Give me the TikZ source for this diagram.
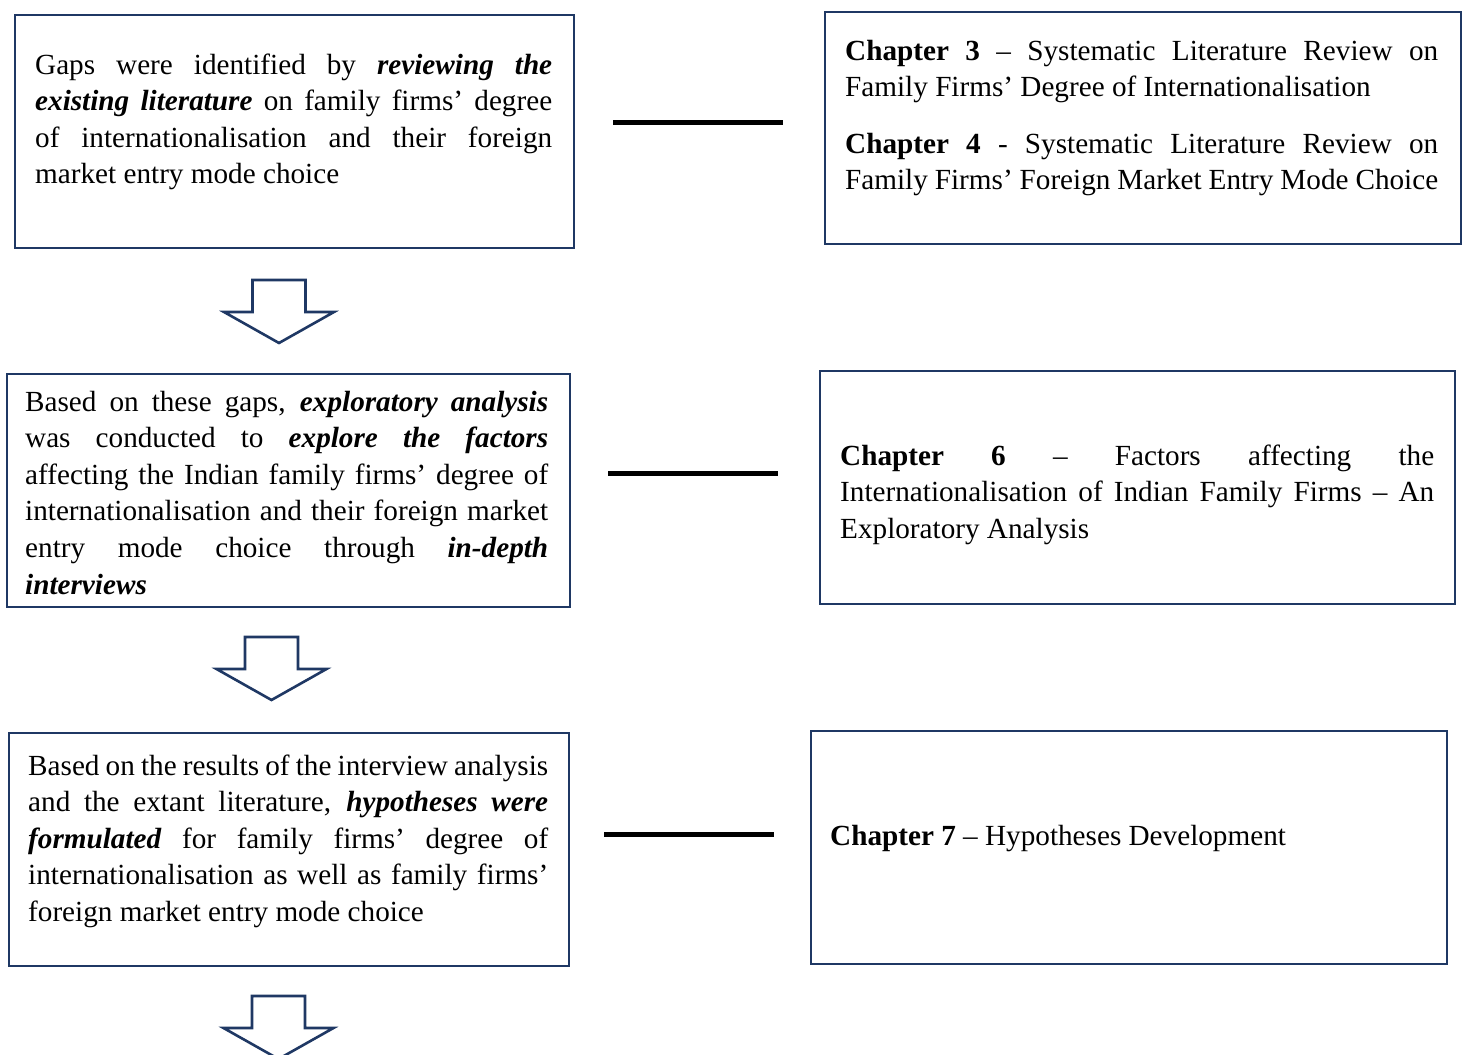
\documentclass[tikz,border=0pt]{standalone}
\usepackage{fontspec}
\setmainfont{Liberation Serif}
\definecolor{frame}{HTML}{1F3864}
\tikzset{
  stagebox/.style={draw=frame, line width=2.6pt, anchor=north west, inner sep=0pt},
  body/.style={anchor=base west, inner sep=0pt, text width=#1, align=justify,
    font=\fontsize{29.2}{36.6}\selectfont},
  link/.style={line width=5pt, black},
  blockarrow/.style={draw=frame, line width=2.6pt, fill=white, line join=miter},
}
\newcommand{\bi}[1]{\textbf{\textit{#1}}}
% hollow downward block arrow hanging from a named coordinate
\newcommand{\downblock}[1]{%
  \draw[blockarrow] (#1) ++(-26.5,0) -- ++(0,32) -- ++(-28.5,0) -- ++(55,31)
    -- ++(55,-31) -- ++(-28.5,0) -- ++(0,-32) -- cycle;}
\begin{document}
\begin{tikzpicture}[x=1pt, y=-1pt]
\useasboundingbox (0,0) rectangle (1465,1055);
\clip (0,0) rectangle (1465,1055);
\tolerance=10000 \hyphenpenalty=10000 \emergencystretch=0pt

% left column: research steps
\node[stagebox, minimum width=559pt, minimum height=233pt] (b1) at (13.5,13.5) {};
\node[body=517pt] (t1) at (35,74) {Gaps were identified by \bi{reviewing the}\linebreak
  \bi{existing literature} on family firms’ degree\linebreak
  of internationalisation and their foreign\linebreak
  market entry mode choice};

\node[stagebox, minimum width=563pt, minimum height=233pt] (b2) at (5.5,372.5) {};
\node[body=523pt] (t2) at (25,411) {Based on these gaps, \bi{exploratory analysis}\linebreak
  was conducted to \bi{explore the factors}\linebreak
  affecting the Indian family firms’ degree of\linebreak
  internationalisation and their foreign market\linebreak
  entry mode choice through \bi{in-depth}\linebreak
  \bi{interviews}};

\node[stagebox, minimum width=560pt, minimum height=233pt] (b3) at (7.5,731.5) {};
\node[body=520pt] (t3) at (28,775) {{\spaceskip=0.14em plus 0.1em minus 0.1em Based on the results of the interview analysis}\linebreak
  and the extant literature, \bi{hypotheses were}\linebreak
  \bi{formulated} for family firms’ degree of\linebreak
  internationalisation as well as family firms’\linebreak
  foreign market entry mode choice};

% right column: thesis chapters
\node[stagebox, minimum width=636pt, minimum height=232pt] (r1) at (823.5,10.5) {};
\node[body=593pt] (u1) at (845,60) {\textbf{Chapter 3} – Systematic Literature Review on\linebreak
  Family Firms’ Degree of Internationalisation\par\vspace{20pt}
  \textbf{Chapter 4} - Systematic Literature Review on\linebreak
  Family Firms’ Foreign Market Entry Mode Choice};

\node[stagebox, minimum width=635pt, minimum height=233pt] (r2) at (818.5,369.5) {};
\node[body=594pt] (u2) at (840,465) {\textbf{Chapter 6} – Factors affecting the\linebreak
  Internationalisation of Indian Family Firms – An\linebreak
  Exploratory Analysis};

\node[stagebox, minimum width=636pt, minimum height=233pt] (r3) at (809.5,729.5) {};
\node[body=594pt] (u3) at (830,845) {\textbf{Chapter 7} – Hypotheses Development};

% links between steps and chapters
\coordinate (l1a) at (613,122); \coordinate (l1b) at (783,122);
\coordinate (l2a) at (608,473); \coordinate (l2b) at (778,473);
\coordinate (l3a) at (604,834); \coordinate (l3b) at (774,834);
\draw[link] (l1a) -- (l1b);
\draw[link] (l2a) -- (l2b);
\draw[link] (l3a) -- (l3b);

% flow arrows
\coordinate (a1) at (279,280);
\coordinate (a2) at (271.5,637);
\coordinate (a3) at (278.5,996);
\downblock{a1}
\downblock{a2}
\downblock{a3}
\end{tikzpicture}
\end{document}
